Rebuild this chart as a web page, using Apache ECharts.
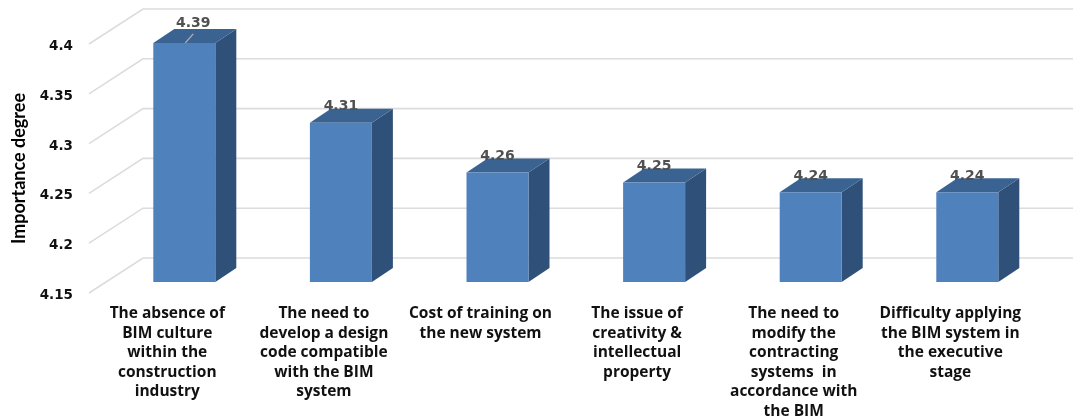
<!DOCTYPE html>
<html>
<head>
<meta charset="utf-8">
<style>html,body{margin:0;padding:0;background:#fff}#c{width:1073px;height:416px}</style>
<script src="https://cdn.jsdelivr.net/npm/echarts@6/dist/echarts.min.js"></script>
</head>
<body>
<div id="c"></div>
<script>
const categories = [
  "The absence of\nBIM culture\nwithin the\nconstruction\nindustry",
  "The need to\ndevelop a design\ncode compatible\nwith the BIM\nsystem",
  "Cost of training on\nthe new system",
  "The issue of\ncreativity &\nintellectual\nproperty",
  "The need to\nmodify the\ncontracting\nsystems  in\naccordance with\nthe BIM",
  "Difficulty applying\nthe BIM system in\nthe executive\nstage"
];
const values = [4.39, 4.31, 4.26, 4.25, 4.24, 4.24];
const ticks = [4.15, 4.2, 4.25, 4.3, 4.35, 4.4];
const yName = "Importance degree";

const yMin = 4.15, yMax = 4.4;
// pseudo-3D depth of the chart box and of the bars (pixels)
const wallDX = 54, wallDY = 35;
const barDX = 17, barDY = 11, barW = 62, depthX = 21, depthY = 14;

const chart = echarts.init(document.getElementById('c'), null, {renderer: 'canvas'});

function renderWall(params, api) {
  const cs = params.coordSys;
  const p = api.coord([0, api.value(0)]);
  const y = p[1];
  const st = {stroke: '#dcdcdc', lineWidth: 1.6, fill: null};
  return {
    type: 'polyline',
    shape: {points: [[cs.x, y], [cs.x + wallDX, y - wallDY], [cs.x + cs.width + wallDX, y - wallDY]]},
    style: st, silent: true
  };
}

function renderBar(params, api) {
  const i = api.value(0), v = api.value(1);
  const t = api.coord([i, v]), b = api.coord([i, yMin]);
  const xl = t[0] + barDX - barW / 2, xr = xl + barW;
  const yt = t[1] - barDY, yb = b[1] - barDY;
  const first = params.dataIndex === 0;
  const kids = [
    {type: 'polygon', shape: {points: [[xr, yt], [xr + depthX, yt - depthY], [xr + depthX, yb - depthY], [xr, yb]]},
      style: {fill: '#2f5179'}},
    {type: 'polygon', shape: {points: [[xl, yt], [xl + depthX, yt - depthY], [xr + depthX, yt - depthY], [xr, yt]]},
      style: {fill: '#3b6391'}},
    {type: 'rect', shape: {x: xl, y: yt, width: barW, height: yb - yt},
      style: {fill: '#4f81bd'}}
  ];
  const cx = (xl + xr) / 2;
  if (first) {
    kids.push({type: 'line', shape: {x1: cx + 1, y1: yt, x2: cx + 9, y2: yt - 9},
      style: {stroke: '#b5b5b5', lineWidth: 1.2}});
  }
  kids.push({type: 'text', style: {
    text: v.toFixed(2), x: cx + (first ? 9 : 0), y: yt - (first ? 20 : 16),
    align: 'center', verticalAlign: 'middle',
    font: 'bold 14px "DejaVu Sans"', fill: '#505050'
  }});
  return {type: 'group', children: kids};
}

chart.setOption({
  animation: false,
  backgroundColor: '#ffffff',
  grid: {left: 89, top: 44, width: 939.6, height: 249, containLabel: false, outerBoundsMode: 'none'},
  xAxis: {
    type: 'category', data: categories,
    axisLine: {show: false}, axisTick: {show: false}, splitLine: {show: false},
    axisLabel: {
      interval: 0, margin: 11, color: '#111111', lineHeight: 19.5,
      fontFamily: 'Open Sans', fontWeight: 'bold', fontSize: 15.5, verticalAlign: 'top'
    }
  },
  yAxis: {
    type: 'value', min: yMin, max: yMax, interval: 0.05,
    name: yName, nameLocation: 'middle', nameGap: 61, nameRotate: 90,
    nameTextStyle: {fontFamily: 'Lato', fontWeight: 'bold', fontSize: 18, color: '#000'},
    axisLine: {show: false}, axisTick: {show: false}, splitLine: {show: false},
    axisLabel: {
      margin: 16, color: '#111111', fontFamily: 'DejaVu Sans', fontWeight: 'bold', fontSize: 13.5,
      verticalAlign: 'top', lineHeight: 5,
      formatter: function (v) { return String(Math.round(v * 100) / 100); }
    }
  },
  series: [
    {type: 'custom', coordinateSystem: 'cartesian2d', xAxisIndex: 0, yAxisIndex: 0,
     encode: {y: 0}, data: ticks.map(v => [v]), renderItem: renderWall, silent: true, z: 1, clip: false},
    {type: 'custom', coordinateSystem: 'cartesian2d',
     encode: {x: 0, y: 1}, data: values.map((v, i) => [i, v]), renderItem: renderBar, silent: true, z: 2, clip: false}
  ]
});
</script>
</body>
</html>
